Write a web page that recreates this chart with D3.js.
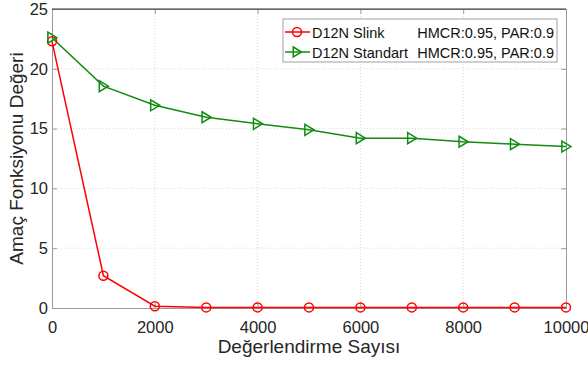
<!DOCTYPE html>
<html>
<head>
<meta charset="utf-8">
<script src="https://cdn.jsdelivr.net/npm/d3@7"></script>
<style>
  body { margin: 0; background: #fff; }
  svg { font-family: "Liberation Sans", Arial, sans-serif; }
</style>
</head>
<body>
<svg id="chart" width="588" height="369"></svg>
<script>
const evals = [0, 1000, 2000, 3000, 4000, 5000, 6000, 7000, 8000, 9000, 10000];
const slink = [22.3, 2.7, 0.15, 0.05, 0.05, 0.05, 0.05, 0.05, 0.05, 0.05, 0.05];
const standart = [22.6, 18.55, 16.95, 15.95, 15.4, 14.9, 14.2, 14.2, 13.9, 13.7, 13.5];
const xTicks = [0, 2000, 4000, 6000, 8000, 10000];
const yTicks = [0, 5, 10, 15, 20, 25];
const legendLabels = [
  ['D12N Slink', 'HMCR:0.95, PAR:0.9'],
  ['D12N Standart', 'HMCR:0.95, PAR:0.9']
];

const svg = d3.select('#chart');
const margin = { top: 9, right: 22, bottom: 61, left: 52 };
const width = 588, height = 369;

const x = d3.scaleLinear().domain([0, 10000]).range([margin.left, width - margin.right]);
const y = d3.scaleLinear().domain([0, 25]).range([height - margin.bottom, margin.top]);

const red = '#ff0000', green = '#118c11';

// grid
const grid = svg.append('g');
grid.selectAll('.gx').data(xTicks.slice(1, -1)).enter().append('line')
  .attr('x1', d => x(d)).attr('x2', d => x(d))
  .attr('y1', y(0)).attr('y2', y(25))
  .attr('stroke', '#d9d9d9').attr('stroke-dasharray', '1,2');
grid.selectAll('.gy').data(yTicks.slice(1, -1)).enter().append('line')
  .attr('y1', d => y(d)).attr('y2', d => y(d))
  .attr('x1', x(0)).attr('x2', x(10000))
  .attr('stroke', '#d9d9d9').attr('stroke-dasharray', '1,2');

// axes (inward ticks, MATLAB style)
svg.append('g')
  .attr('transform', 'translate(0,' + y(0) + ')')
  .call(d3.axisBottom(x).tickValues(xTicks).tickFormat(d3.format('d')).tickSize(-5).tickPadding(13));
svg.append('g')
  .attr('transform', 'translate(' + x(0) + ',0)')
  .call(d3.axisLeft(y).tickValues(yTicks).tickSize(-5).tickPadding(4));
svg.append('g')
  .attr('transform', 'translate(0,' + y(25) + ')')
  .call(d3.axisTop(x).tickValues(xTicks).tickSize(-5).tickFormat(''));
svg.append('g')
  .attr('transform', 'translate(' + x(10000) + ',0)')
  .call(d3.axisRight(y).tickValues(yTicks).tickSize(-5).tickFormat(''));

svg.selectAll('.domain, .tick line').attr('stroke', '#9a9a9a');
svg.selectAll('.tick text').attr('fill', '#262626').style('font-size', '16.5px')
  .style('font-family', '"Liberation Sans", Arial, sans-serif');

// top border darker
svg.append('line')
  .attr('x1', x(0)).attr('x2', x(10000)).attr('y1', y(25)).attr('y2', y(25))
  .attr('stroke', '#333');

// lines
const line = d3.line().x((d, i) => x(evals[i])).y(d => y(d));
svg.append('path').datum(slink).attr('d', line)
  .attr('fill', 'none').attr('stroke', red).attr('stroke-width', 1.5);
svg.append('path').datum(standart).attr('d', line)
  .attr('fill', 'none').attr('stroke', green).attr('stroke-width', 1.5);

svg.append('g').selectAll('circle').data(slink).enter().append('circle')
  .attr('cx', (d, i) => x(evals[i])).attr('cy', d => y(d)).attr('r', 4.5)
  .attr('fill', 'none').attr('stroke', red).attr('stroke-width', 1.5);

const tri = s => 'M' + (-s * 0.75) + ',' + (-s) + 'L' + (s * 0.9) + ',0L' + (-s * 0.75) + ',' + s + 'Z';
svg.append('g').selectAll('path').data(standart).enter().append('path')
  .attr('transform', (d, i) => 'translate(' + x(evals[i]) + ',' + y(d) + ')')
  .attr('d', tri(5.5))
  .attr('fill', 'none').attr('stroke', green).attr('stroke-width', 1.5);

// axis labels
svg.append('text')
  .attr('x', (x(0) + x(10000)) / 2).attr('y', 353)
  .attr('text-anchor', 'middle').attr('fill', '#262626').style('font-size', '19px')
  .text('Değerlendirme Sayısı');
svg.append('text')
  .attr('transform', 'translate(23,' + ((y(0) + y(25)) / 2) + ') rotate(-90)')
  .attr('text-anchor', 'middle').attr('fill', '#262626').style('font-size', '19px')
  .text('Amaç Fonksiyonu Değeri');

// legend
const lg = svg.append('g').attr('transform', 'translate(283,19)');
lg.append('rect').attr('width', 274).attr('height', 43)
  .attr('fill', '#fff').attr('stroke', '#a0a0a0');
const colors = [red, green];
legendLabels.forEach((lab, i) => {
  const cy = 13 + i * 20;
  const g = lg.append('g');
  g.append('line').attr('x1', 2).attr('x2', 27).attr('y1', cy).attr('y2', cy)
    .attr('stroke', colors[i]).attr('stroke-width', 1.5);
  if (i === 0) {
    g.append('circle').attr('cx', 14).attr('cy', cy).attr('r', 4.5)
      .attr('fill', 'none').attr('stroke', red).attr('stroke-width', 1.5);
  } else {
    g.append('path').attr('transform', 'translate(14,' + cy + ')').attr('d', tri(5))
      .attr('fill', 'none').attr('stroke', green).attr('stroke-width', 1.5);
  }
  g.append('text').attr('x', 29).attr('y', cy + 5.5).style('font-size', '14.5px').attr('fill', '#111')
    .text(lab[0]);
  g.append('text').attr('x', 271).attr('y', cy + 5.5).attr('text-anchor', 'end')
    .style('font-size', '14.5px').attr('fill', '#111').text(lab[1]);
});
</script>
</body>
</html>
